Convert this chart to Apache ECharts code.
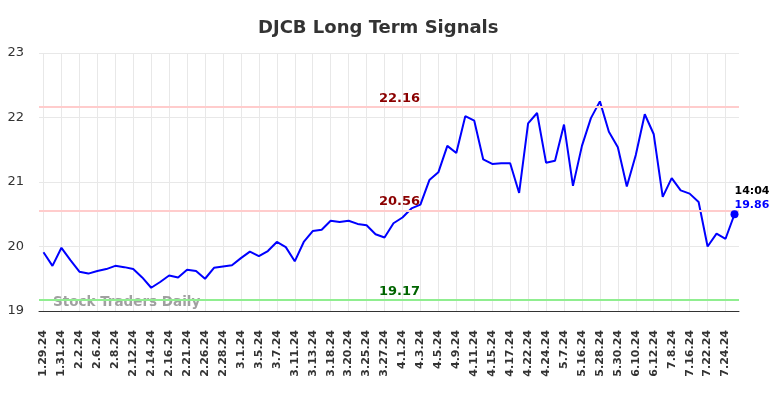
<!DOCTYPE html>
<html>
<head>
<meta charset="utf-8">
<script src="https://cdn.jsdelivr.net/npm/echarts@6/dist/echarts.min.js"></script>
<style>
    html, body { margin: 0; padding: 0; background: #fff; }
    #chart { width: 784px; height: 398px; }
</style>
</head>
<body>
<div id="chart"></div>
<script>
// DJCB 长期信号
var dates = [
    '1.29.24', '1.30.24', '1.31.24', '2.1.24', '2.2.24', '2.5.24', '2.6.24', '2.7.24', '2.8.24', '2.9.24',
    '2.12.24', '2.13.24', '2.14.24', '2.15.24', '2.16.24', '2.20.24', '2.21.24', '2.23.24', '2.26.24', '2.27.24',
    '2.28.24', '2.29.24', '3.1.24', '3.4.24', '3.5.24', '3.6.24', '3.7.24', '3.8.24', '3.11.24', '3.12.24',
    '3.13.24', '3.14.24', '3.18.24', '3.19.24', '3.20.24', '3.21.24', '3.25.24', '3.26.24', '3.27.24', '3.28.24',
    '4.1.24', '4.2.24', '4.3.24', '4.4.24', '4.5.24', '4.8.24', '4.9.24', '4.10.24', '4.11.24', '4.12.24',
    '4.15.24', '4.16.24', '4.17.24', '4.18.24', '4.22.24', '4.23.24', '4.24.24', '4.25.24', '5.7.24', '5.8.24',
    '5.16.24', '5.17.24', '5.28.24', '5.29.24', '5.30.24', '5.31.24', '6.10.24', '6.11.24', '6.12.24', '6.13.24',
    '7.8.24', '7.9.24', '7.16.24', '7.17.24', '7.22.24', '7.23.24', '7.24.24', '7.25.24'
];
var prices = [
    19.91, 19.70, 19.98, 19.79, 19.61, 19.58, 19.62, 19.65, 19.70, 19.68,
    19.65, 19.52, 19.36, 19.45, 19.55, 19.52, 19.64, 19.62, 19.50, 19.67,
    19.69, 19.71, 19.82, 19.92, 19.85, 19.93, 20.07, 19.99, 19.77, 20.07,
    20.24, 20.26, 20.40, 20.38, 20.40, 20.35, 20.33, 20.19, 20.14, 20.36,
    20.45, 20.59, 20.65, 21.03, 21.15, 21.56, 21.45, 22.02, 21.95, 21.35,
    21.28, 21.29, 21.29, 20.83, 21.91, 22.07, 21.30, 21.33, 21.89, 20.94,
    21.56, 21.99, 22.25, 21.78, 21.54, 20.93, 21.42, 22.05, 21.74, 20.77,
    21.06, 20.87, 20.82, 20.69, 20.00, 20.20, 20.12, 20.50
];
var levels = [22.16, 20.56, 19.17];
var levelColors = ['#ffcccc', '#ffcccc', '#90ee90'];
var levelTextColors = ['#8b0000', '#8b0000', '#006400'];
var lastTime = '14:04';
var lastPrice = '19.86';
var yTicks = [19, 23, 1];

(function () {
    var myChart = echarts.init(document.getElementById('chart'));
    var lastIdx = prices.length - 1;

    var lineData = levels.map(function (v, i) {
        return {
            yAxis: v,
            lineStyle: { color: levelColors[i], width: 2, type: 'solid' },
            label: { show: false }
        };
    });
    // 水平线标签放在中间偏右
    var levelLabels = levels.map(function (v, i) {
        return {
            coord: [40, v],
            value: v.toFixed(2),
            label: { color: levelTextColors[i] }
        };
    });

    var option = {
        animation: false,
        backgroundColor: '#fff',
        title: {
            text: 'DJCB Long Term Signals',
            left: 253,
            top: 14,
            textStyle: {
                fontFamily: 'DejaVu Sans',
                fontSize: 18,
                fontWeight: 'bold',
                color: '#333'
            }
        },
        grid: {
            left: 39,
            right: 45,
            top: 53,
            bottom: 87
        },
        xAxis: {
            type: 'category',
            data: dates,
            boundaryGap: true,
            axisLine: { show: true, lineStyle: { color: '#333', width: 1 } },
            axisTick: { show: false },
            axisLabel: {
                interval: 1,
                rotate: 90,
                fontFamily: 'DejaVu Sans',
                fontSize: 11,
                fontWeight: 'bold',
                color: '#333',
                margin: 19
            },
            splitLine: {
                show: true,
                interval: 1,
                alignWithLabel: true,
                lineStyle: { color: '#e8e8e8', width: 1 }
            }
        },
        yAxis: {
            type: 'value',
            min: yTicks[0],
            max: yTicks[1],
            interval: yTicks[2],
            axisLine: { show: false },
            axisTick: { show: false },
            axisLabel: {
                fontFamily: 'DejaVu Sans',
                fontSize: 13,
                color: '#333',
                margin: 15
            },
            splitLine: { lineStyle: { color: '#e8e8e8', width: 1 } }
        },
        graphic: [{
            type: 'text',
            left: 53,
            top: 295,
            z: 5,
            style: {
                text: 'Stock Traders Daily',
                fontFamily: 'DejaVu Sans',
                fontSize: 13.5,
                fontWeight: 'bold',
                fill: 'rgba(120,120,120,0.7)'
            }
        }],
        series: [{
            name: 'DJCB',
            type: 'line',
            data: prices,
            symbol: 'none',
            lineStyle: { color: '#0000ff', width: 2 },
            z: 3,
            markLine: {
                silent: true,
                symbol: ['none', 'none'],
                animation: false,
                data: lineData
            },
            markPoint: {
                silent: true,
                animation: false,
                data: levelLabels.concat([{
                    coord: [lastIdx, prices[lastIdx]],
                    symbol: 'circle',
                    symbolSize: 8,
                    itemStyle: { color: '#0000ff' },
                    label: {
                        show: true,
                        position: [4, -26],
                        offset: [0, 0],
                        align: 'left',
                        verticalAlign: 'top',
                        formatter: '{t|' + lastTime + '}\n{p|' + lastPrice + '}',
                        rich: {
                            t: { color: '#000', fontSize: 11, fontWeight: 'bold', fontFamily: 'DejaVu Sans', lineHeight: 14 },
                            p: { color: '#0000ff', fontSize: 11, fontWeight: 'bold', fontFamily: 'DejaVu Sans', lineHeight: 14 }
                        }
                    }
                }]),
                symbol: 'circle',
                symbolSize: 0,
                label: {
                    show: true,
                    position: 'top',
                    distance: 2,
                    offset: [-3, 0],
                    fontFamily: 'DejaVu Sans',
                    fontSize: 13,
                    fontWeight: 'bold',
                    formatter: function (p) { return p.value; }
                }
            }
        }]
    };
    myChart.setOption(option);
    window.addEventListener('resize', function () {
        myChart.resize();
    });
})();
</script>
</body>
</html>
